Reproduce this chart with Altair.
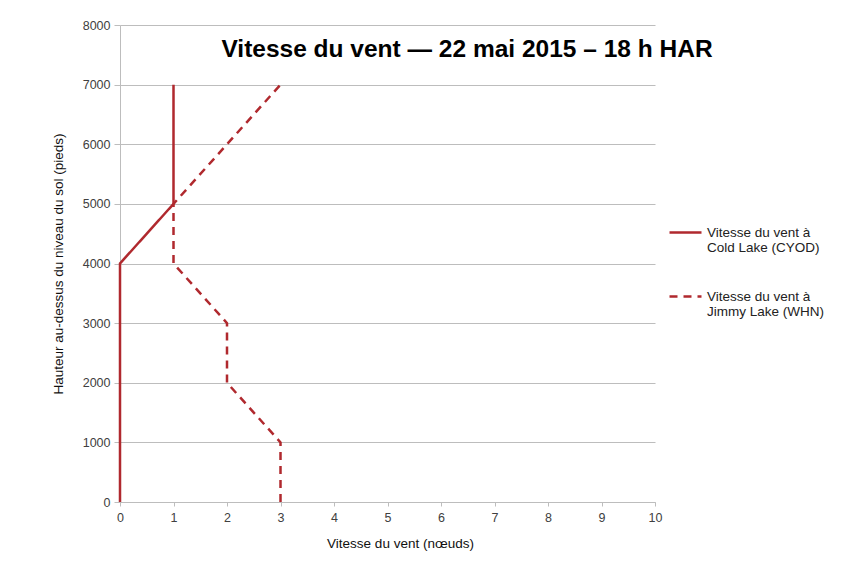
import altair as alt
import pandas as pd

heights = [0, 1000, 2000, 3000, 4000, 5000, 6000, 7000]
cold_lake = [0, 0, 0, 0, 0, 1, 1, 1]
jimmy_lake = [3, 3, 2, 2, 1, 1, 2, 3]
series = ["Vitesse du vent à|Cold Lake (CYOD)", "Vitesse du vent à|Jimmy Lake (WHN)"]
title_text = "Vitesse du vent — 22 mai 2015 – 18 h HAR"

rows = []
for i, h in enumerate(heights):
    rows.append({"serie": series[0], "h": h, "v": cold_lake[i], "o": i})
for i, h in enumerate(heights):
    rows.append({"serie": series[1], "h": h, "v": jimmy_lake[i], "o": i})
df = pd.DataFrame(rows)

RED = "#B0292E"
GRID = "#BDBDBD"
FONT = "Liberation Sans"

lines = alt.Chart(df).mark_line(strokeWidth=2.5, color=RED).encode(
    x=alt.X("v:Q", scale=alt.Scale(domain=[0, 10]),
            axis=alt.Axis(values=list(range(0, 11)), title="Vitesse du vent (nœuds)",
                          grid=False, domainColor=GRID, tickColor=GRID, tickSize=4,
                          labelFlush=False, titleX=280,
                          labelFontSize=12.5, titleFontSize=13.5, titleFontWeight="normal",
                          labelPadding=5, titlePadding=13, labelColor="#404040", titleColor="#111")),
    y=alt.Y("h:Q", scale=alt.Scale(domain=[0, 8000]),
            axis=alt.Axis(values=list(range(0, 8001, 1000)), format="d",
                          title="Hauteur au-dessus du niveau du sol (pieds)",
                          grid=True, gridColor=GRID, domainColor=GRID, tickColor=GRID, tickSize=6,
                          labelFlush=False,
                          labelFontSize=12.5, titleFontSize=13.5, titleFontWeight="normal",
                          labelPadding=4, titlePadding=17, labelColor="#404040", titleColor="#111")),
    order="o:Q",
    strokeDash=alt.StrokeDash("serie:N",
        scale=alt.Scale(domain=series, range=[[1, 0], [8, 6]]),
        legend=alt.Legend(title=None, orient="none", legendX=548, legendY=190,
                          symbolType="stroke", symbolSize=1024, symbolStrokeWidth=2.5,
                          symbolStrokeColor=RED, labelExpr="split(datum.label, '|')",
                          labelFontSize=13.5, labelColor="#222", labelLimit=300,
                          rowPadding=24, labelOffset=4)),
)

title = alt.Chart(pd.DataFrame({"t": [title_text]})).mark_text(
    fontSize=24.5, fontWeight="bold", font=FONT, color="#000", baseline="top", align="center"
).encode(text="t:N", x=alt.value(347), y=alt.value(13))

chart = alt.layer(lines, title).properties(
    width=535, height=477,
    autosize=alt.AutoSizeParams(type="none"),
    padding={"left": 112, "top": 17, "right": 195, "bottom": 58},
).configure(font=FONT).configure_view(stroke=None)

chart.save("out.html", embed_options={"renderer": "svg", "actions": False})
